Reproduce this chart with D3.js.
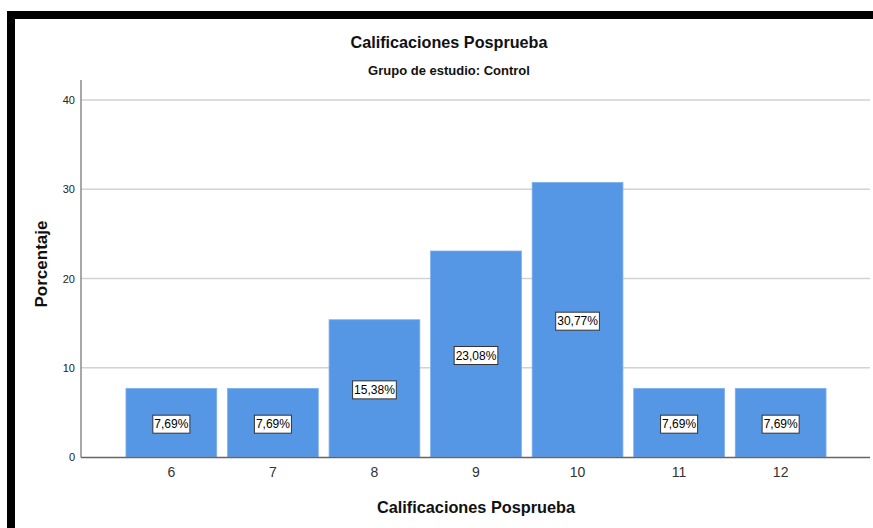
<!DOCTYPE html>
<html><head><meta charset="utf-8">
<script src="https://cdn.jsdelivr.net/npm/d3@7"></script>
<style>html,body{margin:0;padding:0;background:#fff;overflow:hidden}</style>
</head><body>
<svg id="c" width="873" height="528"></svg>
<script>
const categories = ["6","7","8","9","10","11","12"];
const values = [7.69, 7.69, 15.38, 23.08, 30.77, 7.69, 7.69];
const yTicks = [0, 10, 20, 30, 40];
const title = "Calificaciones Posprueba";
const subtitle = "Grupo de estudio: Control";
const xTitle = "Calificaciones Posprueba";
const yTitle = "Porcentaje";

const svg = d3.select("#c");
const font = "Arial, 'Liberation Sans', sans-serif";

// frame
svg.append("rect").attr("x",7).attr("y",11).attr("width",866).attr("height",8).attr("fill","#000");
svg.append("rect").attr("x",7).attr("y",11).attr("width",8).attr("height",517).attr("fill","#000");

const plotL = 81, plotR = 870, plotT = 80;
const y = d3.scaleLinear().domain([0,40]).range([457,100]);
const p = 0.106;
const x = d3.scaleBand().domain(categories).range([115.2, 836.8]).padding(p);

// gridlines
svg.append("g").selectAll("line").data(yTicks.filter(d=>d>0)).join("line")
  .attr("x1",plotL).attr("x2",plotR)
  .attr("y1",d=>y(d)).attr("y2",d=>y(d))
  .attr("stroke","#d2d2d2").attr("stroke-width",1.5);

// y axis
const ya = svg.append("g").attr("transform",`translate(${plotL},0)`)
  .call(d3.axisLeft(y).tickValues(yTicks).tickSize(0).tickPadding(6));
ya.select(".domain").remove();
ya.selectAll("text").attr("font-family",font).attr("font-size",11).attr("fill","#222");
svg.append("line").attr("x1",plotL).attr("x2",plotL).attr("y1",plotT).attr("y2",457.5)
  .attr("stroke","#8a8a8a").attr("stroke-width",1.5);

// bars
svg.append("g").selectAll("rect").data(values).join("rect")
  .attr("x",(d,i)=>x(categories[i]))
  .attr("width",x.bandwidth())
  .attr("y",d=>y(d))
  .attr("height",d=>y(0)-y(d))
  .attr("fill","#5596e5")
  .attr("stroke","#7fb0ee").attr("stroke-width",0.8);

// baseline
svg.append("line").attr("x1",plotL).attr("x2",plotR).attr("y1",457.5).attr("y2",457.5)
  .attr("stroke","#666").attr("stroke-width",1.5);

// x axis
const xa = svg.append("g").attr("transform",`translate(0,457)`)
  .call(d3.axisBottom(x).tickSize(0).tickPadding(10));
xa.select(".domain").remove();
xa.selectAll("text").attr("font-family",font).attr("font-size",14).attr("fill","#333");

// value labels
const lg = svg.append("g").selectAll("g").data(values).join("g")
  .attr("transform",(d,i)=>`translate(${x(categories[i])+x.bandwidth()/2},${(y(d)+y(0))/2+1.5})`);
lg.each(function(d){
  const g = d3.select(this);
  const t = g.append("text").text(d.toFixed(2).replace(".",",")+"%")
    .attr("font-family",font).attr("font-size",12).attr("fill","#000")
    .attr("text-anchor","middle").attr("dy","0.35em");
  const w = t.node().getComputedTextLength();
  g.insert("rect","text").attr("x",-w/2-1.5).attr("y",-9).attr("width",w+3).attr("height",18)
    .attr("fill","#fff").attr("stroke","#333").attr("stroke-width",1);
});

// titles
svg.append("text").attr("x",449).attr("y",48).attr("text-anchor","middle")
  .attr("font-family",font).attr("font-size",16.2).attr("font-weight","bold").attr("fill","#111").text(title);
svg.append("text").attr("x",449).attr("y",75).attr("text-anchor","middle")
  .attr("font-family",font).attr("font-size",13).attr("font-weight","bold").attr("fill","#111").text(subtitle);
svg.append("text").attr("x",476).attr("y",513).attr("text-anchor","middle")
  .attr("font-family",font).attr("font-size",16.3).attr("font-weight","bold").attr("fill","#111").text(xTitle);
svg.append("text").attr("transform","translate(47,264) rotate(-90)").attr("text-anchor","middle")
  .attr("font-family",font).attr("font-size",17).attr("font-weight","bold").attr("fill","#111").text(yTitle);
</script>
</body></html>
